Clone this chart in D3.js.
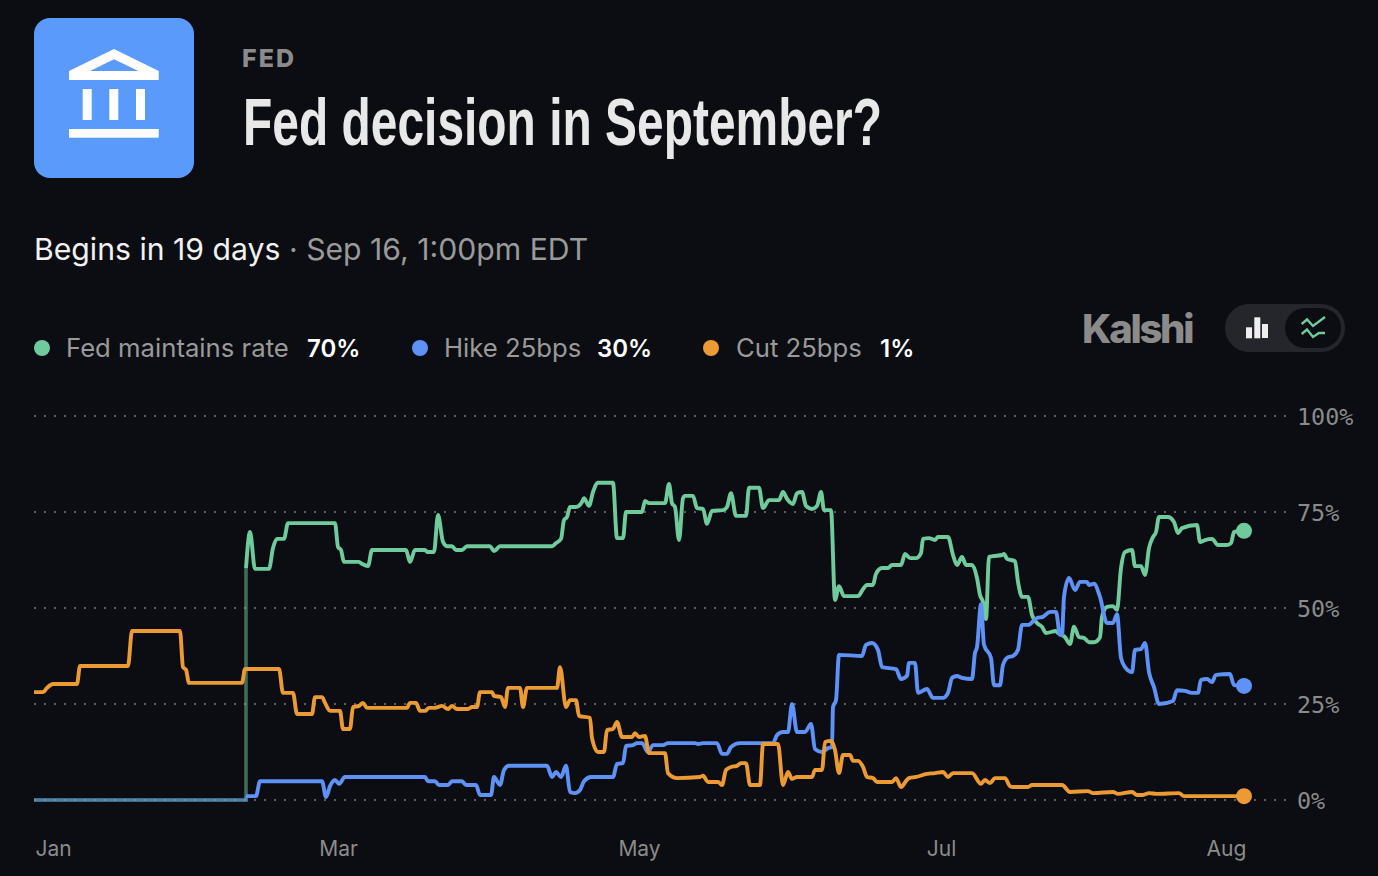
<!DOCTYPE html>
<html>
<head>
<meta charset="utf-8">
<script src="https://cdnjs.cloudflare.com/ajax/libs/d3/7.8.5/d3.min.js"></script>
<style>
  html, body { margin: 0; padding: 0; background: #0b0d12; overflow: hidden; }
  svg { display: block; font-family: Inter, Roboto, sans-serif; }
  .tick-y text { font-family: "DejaVu Sans Mono", monospace; }
</style>
</head>
<body>
<svg id="chart" width="1378" height="876"></svg>
<script>
const yTicks = [0, 25, 50, 75, 100];
const xTickDays = [3.8, 60.8, 121, 181.4, 238.4];
const xTickLabels = ["Jan", "Mar", "May", "Jul", "Aug"];

const seriesNames = ["Fed maintains rate", "Hike 25bps", "Cut 25bps"];
const seriesLatest = ["70%", "30%", "1%"];
const seriesColors = ["#6fcb9b", "#5f92f6", "#ec9a34"];

// before the market listed: everything but the cut sat at zero
const preListDays = [0, 42.4];

// [day, percent]
const maintainPoints = [[42.4,60.4],[43.2,69.8],[44.2,60.2],[47,60.2],[47.8,65.6],[48.6,68],[50,68],[50.8,72.1],[60.2,72.1],[60.8,65.9],[61.4,65.1],[62,62],[65,62],[65.6,61.5],[66.8,60.9],[67.6,65.1],[74.4,65.1],[75.2,62],[76.2,65.1],[78.2,65.1],[78.6,64.6],[80,64.6],[80.8,74.2],[81.8,67.2],[82.6,66.1],[83.6,66.1],[84.4,65.1],[85.6,65.1],[86.6,66.1],[91.2,66.1],[92,64.8],[93.2,66.1],[103.6,66.1],[104.4,66.9],[105.4,68],[106,72.9],[106.6,73.7],[107.2,76.3],[108.4,76.3],[109.6,77.6],[110,78.6],[111,76.6],[111.8,80.2],[112.8,82.6],[115.8,82.6],[116.6,68.2],[117.8,68.2],[118.4,75],[121.6,75],[122.2,77.9],[123,77.3],[126.2,77.3],[127,82.3],[127.6,77.3],[128.2,76.3],[129,67.7],[129.8,78.6],[130.2,79.2],[131.8,79.2],[132.6,76],[133.8,75.8],[134.6,71.9],[135.6,75.3],[137.8,75.5],[138.6,76.3],[139.4,79.9],[140.4,74],[142.4,74],[143,81.3],[145,81.3],[145.8,76],[147,78.1],[149,78.1],[149.8,80.2],[150.6,78.4],[151.8,77.1],[152.6,79.9],[153.6,80.2],[154.4,76.6],[155.6,75.8],[156.6,76.6],[157.4,80.2],[158,75.5],[159.4,75.5],[160.2,52.1],[161,55.7],[162,53.1],[164.8,53.1],[165.8,54.9],[166.6,56],[167.8,56],[168.4,58.9],[169.6,60.4],[170.8,60.4],[171.6,61.2],[173.4,61.2],[174.2,64.1],[175.2,63],[176.4,63],[177.4,64.3],[177.8,68],[179,68.2],[180.2,67.7],[180.8,68.5],[182.8,68.5],[183.8,63.8],[184.6,61.2],[185.6,63.3],[186.4,61.2],[187.6,61.2],[188.6,57.8],[189.2,53.4],[189.8,51.6],[190.4,47.1],[191,63.3],[191.8,63.5],[193.6,63.8],[194,64.1],[194.6,62.8],[196.2,62.2],[196.8,56.8],[197.6,52.9],[198.8,52.9],[199.6,48.2],[200.6,46.1],[201.6,45.1],[202.4,43.5],[204.4,44],[204.8,43.5],[206.2,42.4],[207.2,40.6],[208,45.1],[209,42.4],[210,42.2],[211,41.1],[212,41.1],[213.2,42.4],[213.6,47.7],[214.6,50.3],[215.8,50.5],[216.6,49.5],[217.4,60.4],[218.2,64.6],[219.6,65.1],[220.2,60.9],[221.4,60.9],[222.2,58.6],[223,65.6],[223.8,68.5],[224.4,69.8],[225,73.7],[226.8,73.7],[228,72.4],[228.8,69.5],[229.6,70.8],[232.6,71.6],[233.2,67.2],[234.2,67.7],[235.6,68],[236.8,66.4],[238.6,66.4],[239.4,66.9],[240,69.8],[242,70.1]];

const hikePoints = [[42.4,1],[44.4,1],[45.2,4.9],[57.6,4.9],[58.4,0.8],[59.2,3.6],[60.2,5.2],[61,4.2],[62.2,6],[78.2,6],[78.8,4.9],[80.2,4.9],[81,3.9],[82.8,3.9],[83.6,4.9],[85.6,4.9],[86.4,3.9],[88.4,3.9],[89.2,1.3],[91.4,1.3],[92,6],[93.2,3.9],[94,7.8],[95,8.9],[102.6,8.9],[103.6,6],[104.4,7.3],[105.4,6],[106.4,8.9],[107.2,2.1],[108.2,1.8],[109.2,2.6],[110,4.9],[111.4,6],[115.8,6],[116.6,9.4],[117.8,9.6],[118.4,14.1],[119.8,14.3],[120.6,14.8],[121.6,14.8],[122.8,12.5],[123.8,14.3],[125.8,14.3],[126.8,14.8],[132.2,14.8],[132.8,14.6],[133.8,14.8],[136.6,14.8],[137.6,12],[138.6,12],[139.4,13.8],[141.2,14.8],[147.8,14.8],[148.6,16.9],[149.8,17.7],[150.8,17.7],[151.6,25],[152.6,17.7],[154.2,17.7],[155.4,19.8],[156.2,13.3],[157.6,12.5],[158.8,13.5],[159.6,13.8],[159.8,24.2],[160.4,26],[161,37.8],[165.6,37.5],[166.4,40.4],[167.6,40.9],[168.8,39.1],[169.6,34.6],[172.4,34.1],[173.4,31.5],[174.6,32.3],[175,35.7],[176.2,35.7],[176.8,27.9],[178.6,28.9],[179.8,26.6],[181.8,26.6],[182.8,27.9],[183.6,31.8],[184.6,32.3],[185.6,31.8],[187.6,31.5],[188.2,38.3],[188.6,39.8],[189.4,51],[190,40.4],[191.4,37],[192,29.9],[193.2,29.9],[193.8,35.2],[194.8,37.2],[195.8,37.5],[196.8,39.1],[197.6,45.6],[198.8,45.6],[200.6,47.4],[201.8,47.7],[203.2,49],[204.4,49],[205.2,43],[205.6,43],[206,52.9],[207,57.8],[208.2,54.7],[209.2,56.8],[210.6,56.8],[211,56],[212,56.3],[213.2,52.9],[214.6,46.1],[215.8,46.1],[216.6,48.4],[217.4,37],[218.2,34.6],[219.6,33.3],[220.2,39.1],[221.4,39.3],[222.2,40.9],[223,33.3],[224,29.4],[225,25],[227.8,25.8],[228.6,28.6],[230.2,28.4],[231.6,27.9],[232.8,27.9],[233.4,31.3],[234.6,31.5],[235.6,30.7],[236.4,32.6],[239.2,32.8],[240,29.9],[242,29.7]];

const cutPoints = [[0,28.1],[1.8,28.1],[2.6,29.2],[3.8,30.2],[8.6,30.2],[9.2,34.9],[18.8,34.9],[19.6,44],[29.2,44],[29.8,34.6],[30.4,33.9],[31,30.5],[41.6,30.5],[42.2,34.1],[49,34.1],[49.8,27.9],[51.8,27.9],[52.6,22.4],[55.6,22.4],[56.2,26.8],[57.6,26.8],[58.2,25.3],[59.2,23.2],[61.2,23.2],[61.8,18.5],[63.2,18.5],[63.8,24.2],[65,24.5],[65.8,25.3],[66.6,24],[74.6,24],[75.2,25.3],[76.4,25.3],[77.2,23.2],[78.2,23.2],[79,24],[80.2,24],[81.6,24.5],[82.8,23.7],[83.6,24.5],[84.6,23.7],[86.8,23.7],[87.6,24.2],[88.6,24.2],[89.2,28.1],[91.6,28.1],[92,27.1],[93.4,26.8],[94.2,24.2],[94.8,29.2],[97.2,29.2],[97.8,24.2],[98.6,29.2],[104.6,29.2],[105.2,34.6],[106.4,24.2],[107.2,26],[108.4,26],[109,21.9],[111.2,21.4],[111.6,16.1],[112.8,12.5],[114,12.5],[114.6,18.2],[115.8,18.5],[116.6,20.3],[117.6,16.4],[119.6,16.4],[120.2,17.4],[121,16.4],[122.2,16.7],[123,12.2],[126.2,12.2],[126.8,7],[128.6,5.7],[133.2,6],[133.8,6.3],[134.8,4.7],[136.8,4.7],[137.6,3.9],[138.4,7.8],[139.4,8.6],[140.6,8.9],[141.4,9.6],[142.4,9.6],[143.2,3.9],[145.2,3.9],[145.8,14.6],[148.8,14.6],[149.8,3.9],[150.8,7.3],[151.6,5.5],[152.6,6],[155.6,6],[156.2,7.8],[157.6,7.8],[158.2,15.1],[159.4,15.4],[160.2,13],[161,7],[161.8,11.7],[163.2,11.7],[163.8,10.2],[164.8,10.2],[165.8,8.6],[166.6,6],[167.8,5.7],[168.6,4.7],[171.6,4.7],[172.4,5.7],[173.4,3.4],[174.4,4.9],[175,5.7],[176.4,6],[178.6,6.8],[180.2,7],[181.8,7.3],[182.8,6],[183.8,7],[187.6,7],[189.4,4.2],[190.2,5.2],[191.2,4.4],[192.2,5.7],[194.2,5.7],[195.2,3.6],[195.8,3.4],[198.8,3.4],[199.6,3.9],[205.6,3.9],[207.2,2.1],[210.8,2.3],[211.8,1.8],[215.8,2.1],[216.8,1.6],[219.6,2.1],[220.6,1.3],[221.8,1.3],[223,1.8],[224.6,1.6],[229,1.8],[230,1],[242,1]];

const svg = d3.select("#chart");
const GRAY = "#8b8b8b";
const MUTED = "#9a9a9a";

const x = d3.scaleLinear().domain([0, 242]).range([34, 1244]);
const y = d3.scaleLinear().domain([0, 100]).range([800, 416]);

// header
svg.append("rect")
  .attr("x", 34).attr("y", 18)
  .attr("width", 160).attr("height", 160)
  .attr("rx", 16)
  .attr("fill", "#5a9afa");

const icon = svg.append("g").attr("fill", "#fff");
icon.append("path")
  .attr("fill-rule", "evenodd")
  .attr("d", "M114 49L158.7 71V80H69V71ZM114 59.3L90 71H138.3Z");
[82.7, 109.3, 136].forEach(cx => {
  icon.append("rect").attr("x", cx).attr("y", 89).attr("width", 9).attr("height", 31);
});
icon.append("rect").attr("x", 69).attr("y", 129).attr("width", 89.7).attr("height", 8.7);

svg.append("text")
  .attr("x", 242).attr("y", 67)
  .attr("font-size", 25).attr("font-weight", 800)
  .attr("letter-spacing", 2)
  .attr("fill", GRAY)
  .text("FED");

svg.append("text")
  .attr("x", 243).attr("y", 145)
  .attr("font-family", "'Liberation Sans Narrow', 'Liberation Sans', sans-serif")
  .attr("font-size", 66).attr("font-weight", 700)
  .attr("textLength", 639).attr("lengthAdjust", "spacingAndGlyphs")
  .attr("fill", "#e8e8e8")
  .text("Fed decision in September?");

const sub = svg.append("text")
  .attr("x", 34).attr("y", 260)
  .attr("font-size", 30.2);
sub.append("tspan").attr("fill", "#f2f2f2").text("Begins in 19 days");
sub.append("tspan").attr("fill", MUTED).text(" · Sep 16, 1:00pm EDT");

// legend
const legendDotX = [42, 420, 711];
const legendNameX = [66, 444, 736];
const legendValueX = [307, 597, 880];
seriesNames.forEach((name, i) => {
  svg.append("circle").attr("cx", legendDotX[i]).attr("cy", 348).attr("r", 8).attr("fill", seriesColors[i]);
  svg.append("text")
    .attr("x", legendNameX[i]).attr("y", 357)
    .attr("font-size", 25.7).attr("fill", MUTED)
    .text(name);
  svg.append("text")
    .attr("x", legendValueX[i]).attr("y", 357)
    .attr("font-size", 24).attr("font-weight", 600).attr("fill", "#fff")
    .text(seriesLatest[i]);
});

// logo + toggle
svg.append("text")
  .attr("x", 1082).attr("y", 343)
  .attr("font-size", 40).attr("font-weight", 800)
  .attr("letter-spacing", -2.3)
  .attr("fill", GRAY)
  .text("Kalshi");

svg.append("rect").attr("x", 1225).attr("y", 304).attr("width", 120).attr("height", 48).attr("rx", 24).attr("fill", "#24262b");
svg.append("rect").attr("x", 1285).attr("y", 308).attr("width", 56).attr("height", 40).attr("rx", 20).attr("fill", "#0b0d12");
[[1246, 327.3, 6, 11], [1254.3, 317.3, 6, 21], [1262, 324, 6, 14]].forEach(b => {
  svg.append("rect").attr("x", b[0]).attr("y", b[1]).attr("width", b[2]).attr("height", b[3]).attr("fill", "#eee");
});
svg.append("path")
  .attr("d", "M1301.7 324L1307 319.5L1313 326L1325 317M1301.7 334L1307 329.5L1313 337L1319 333H1325")
  .attr("fill", "none").attr("stroke", seriesColors[0]).attr("stroke-width", 2.4);

// grid
svg.append("g").selectAll("line")
  .data(yTicks).enter()
  .append("line")
  .attr("x1", 34).attr("x2", 1286)
  .attr("y1", d => y(d)).attr("y2", d => y(d))
  .attr("stroke", "#5c5e62")
  .attr("stroke-width", 2)
  .attr("stroke-dasharray", "2 8");

// axes
const yAxis = svg.append("g")
  .attr("class", "tick-y")
  .attr("transform", "translate(1297,1)")
  .call(d3.axisRight(y).tickValues(yTicks).tickSize(0).tickPadding(0).tickFormat(d => d + "%"));
yAxis.select(".domain").remove();
yAxis.selectAll("text").attr("font-size", 23.4).attr("fill", GRAY).attr("font-family", null);

const xAxis = svg.append("g")
  .attr("transform", "translate(0,841)")
  .call(d3.axisBottom(x).tickValues(xTickDays).tickSize(0).tickPadding(0)
    .tickFormat((d, i) => xTickLabels[i]));
xAxis.select(".domain").remove();
xAxis.selectAll("text").attr("font-size", 21).attr("fill", GRAY).attr("font-family", "Inter, Roboto, sans-serif");

// lines
const line = d3.line()
  .x(d => x(d[0]))
  .y(d => y(d[1]))
  .curve(d3.curveMonotoneX);

const allSeries = [maintainPoints, hikePoints, cutPoints];

[maintainPoints, hikePoints].forEach((pts, i) => {
  const pre = preListDays.map(d => [d, 0]).concat([pts[0]]);
  svg.append("path")
    .attr("d", d3.line().x(d => x(d[0])).y(d => y(d[1]))(pre))
    .attr("fill", "none")
    .attr("stroke", seriesColors[i])
    .attr("stroke-width", 3.6)
    .attr("stroke-opacity", 0.5);
});

allSeries.forEach((pts, i) => {
  svg.append("path")
    .attr("d", line(pts))
    .attr("fill", "none")
    .attr("stroke", seriesColors[i])
    .attr("stroke-width", 3.9)
    .attr("stroke-linejoin", "round");
});

allSeries.forEach((pts, i) => {
  const last = pts[pts.length - 1];
  svg.append("circle")
    .attr("cx", x(last[0])).attr("cy", y(last[1]))
    .attr("r", 8)
    .attr("fill", seriesColors[i]);
});
</script>
</body>
</html>
